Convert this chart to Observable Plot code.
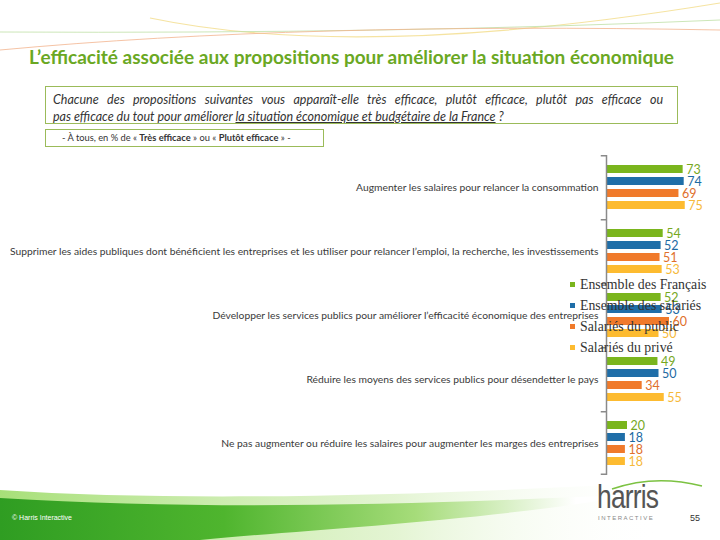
<!DOCTYPE html>
<html>
<head>
<meta charset="utf-8">
<script src="https://cdn.jsdelivr.net/npm/d3@7"></script>
<script src="https://cdn.jsdelivr.net/npm/@observablehq/plot@0.6"></script>
<style>
  html, body { margin: 0; padding: 0; background: #fff; }
  #page { position: relative; width: 720px; height: 540px; overflow: hidden; background: #fff; font-family: Lato, "Open Sans", sans-serif; }
  #decor { position: absolute; left: 0; top: 0; }
  #title { position: absolute; left: 0; width: 703px; top: 45px; text-align: center; font-weight: bold; font-size: 19px; color: #6aa823; white-space: nowrap; }
  #question { position: absolute; left: 45px; top: 86px; width: 633px; height: 38px; border: 1px solid #9bbb59; box-sizing: border-box; padding: 4px 14px 0 7px; font-style: italic; font-size: 12.5px; line-height: 17px; color: #333; }
  #question .l1 { text-align: justify; text-align-last: justify; white-space: nowrap; }
  #sub { position: absolute; left: 45px; top: 129px; width: 279px; height: 18px; border: 1px solid #9bbb59; box-sizing: border-box; font-size: 9.3px; line-height: 16px; color: #333; padding-left: 16px; white-space: nowrap; }
  #chart { position: absolute; left: 0; top: 150px; }
  #legend { position: absolute; left: 570px; top: 275px; font-family: "Liberation Serif", "DejaVu Serif", serif; font-size: 13.8px; color: #333; }
  #legend .item { height: 21px; line-height: 19px; white-space: nowrap; }
  #legend .sw { display: inline-block; width: 5px; height: 5px; margin-right: 5px; vertical-align: middle; position: relative; top: -1px; }
  #copy { position: absolute; left: 12px; top: 514px; font-size: 7px; color: #fff; font-family: "Liberation Sans", sans-serif; }
  #harris { position: absolute; left: 597px; top: 478px; font-family: "Liberation Sans", sans-serif; font-size: 33px; color: #555; letter-spacing: -1px; transform: scaleX(0.8); transform-origin: left; }
  #inter { position: absolute; left: 598px; top: 515px; font-size: 6px; letter-spacing: 1.5px; color: #888; font-family: "Liberation Sans", sans-serif; }
  #pnum { position: absolute; left: 690px; top: 513px; font-size: 9px; color: #333; font-family: "Liberation Sans", sans-serif; }
</style>
</head>
<body>
<div id="page">
  <svg id="decor" width="720" height="540">
    <defs>
      <linearGradient id="swoosh" x1="0" x2="1" y1="0" y2="0">
        <stop offset="0" stop-color="#2f9d22"/>
        <stop offset="0.35" stop-color="#4fb52e"/>
        <stop offset="0.65" stop-color="#a6dc7a"/>
        <stop offset="0.9" stop-color="#ffffff"/>
      </linearGradient>
      <linearGradient id="swoosh2" x1="0" x2="1" y1="0" y2="0">
        <stop offset="0" stop-color="#9edc6a" stop-opacity="0.9"/>
        <stop offset="0.6" stop-color="#d8f0c0" stop-opacity="0.7"/>
        <stop offset="1" stop-color="#ffffff" stop-opacity="0"/>
      </linearGradient>
    </defs>
    <path d="M150,18 Q360,62 720,3" fill="none" stroke="#f3dc8a" stroke-width="1.2" opacity="0.8"/>
    <path d="M0,32 Q400,34 720,20" fill="none" stroke="#bfe0a6" stroke-width="1" opacity="0.8"/>
    <path d="M0,50 Q300,22 720,30" fill="none" stroke="#f3b48e" stroke-width="1" opacity="0.8"/>
    <path d="M0,490 C180,502 420,496 660,482 L660,540 L0,540 Z" fill="url(#swoosh2)"/>
    <path d="M0,498 C200,510 400,506 640,494 C500,520 300,530 200,540 L0,540 Z" fill="url(#swoosh)"/>
    <path d="M612,489 Q655,474 702,486" fill="none" stroke="#7cc242" stroke-width="1.5"/>
  </svg>
  <div id="title">L’efficacité associée aux propositions pour améliorer la situation économique</div>
  <div id="question">
    <div class="l1">Chacune des propositions suivantes vous apparaît-elle très efficace, plutôt efficace, plutôt pas efficace ou</div>
    <div>pas efficace du tout pour améliorer <u>la situation économique et budgétaire de la France</u> ?</div>
  </div>
  <div id="sub">- À tous, en % de « <b>Très efficace</b> » ou « <b>Plutôt efficace</b> » -</div>
  <div id="chart"></div>
  <div id="legend"></div>
  <div id="copy">© Harris Interactive</div>
  <div id="harris">harris</div>
  <div id="inter">INTERACTIVE</div>
  <div id="pnum">55</div>
</div>
<script>
const categories = [
  "Augmenter les salaires pour relancer la consommation",
  "Supprimer les aides publiques dont bénéficient les entreprises et les utiliser pour relancer l’emploi, la recherche, les investissements",
  "Développer les services publics pour améliorer l’efficacité économique des entreprises",
  "Réduire les moyens des services publics pour désendetter le pays",
  "Ne pas augmenter ou réduire les salaires pour augmenter les marges des entreprises"
];
const series = ["Ensemble des Français", "Ensemble des salariés", "Salariés du public", "Salariés du privé"];
const francais = [73, 54, 52, 49, 20];
const salaries = [74, 52, 53, 50, 18];
const publics  = [69, 51, 60, 34, 18];
const prives   = [75, 53, 50, 55, 18];
const barColors = ["#7ab51d", "#1f6ea8", "#f07a2b", "#fdbb30"];
const labelColors = ["#76a81e", "#1d6aa3", "#e0702c", "#f6b93a"];

const valuesBySeries = [francais, salaries, publics, prives];
const data = [];
series.forEach((s, si) => categories.forEach((c, ci) => data.push({category: c, series: s, value: valuesBySeries[si][ci]})));

const facetH = 64;
const chart = Plot.plot({
  width: 720,
  height: 330,
  marginLeft: 606,
  marginRight: 9,
  marginTop: 5,
  marginBottom: 5,
  style: {fontFamily: "Lato, sans-serif", fontSize: "10.3px", color: "#3a3a3a", background: "transparent", overflow: "visible"},
  x: {domain: [0, 100], axis: null},
  y: {domain: series, axis: null, paddingInner: 0.35, paddingOuter: 0.75},
  fy: {domain: categories, padding: 0, axis: "left", label: null, tickSize: 0, tickPadding: 8},
  color: {domain: series, range: barColors},
  marks: [
    Plot.barX(data, {x: "value", y: "series", fy: "category", fill: "series"}),
    Plot.text(data, {x: "value", y: "series", fy: "category", text: d => String(d.value), dx: 3, textAnchor: "start",
      fill: d => labelColors[series.indexOf(d.series)], fontSize: 12.5, fontFamily: "Lato, sans-serif"}),
    Plot.ruleX([0], {stroke: "#8a8a8a", strokeWidth: 1.5}),
    Plot.rect([0], {x1: -5, x2: 0, insetBottom: facetH - 1.5, fill: "#8a8a8a", clip: false}),
    Plot.rect([categories[categories.length - 1]], {fy: d => d, x1: -5, x2: 0, insetTop: facetH - 1.5, fill: "#8a8a8a", clip: false})
  ]
});
document.getElementById("chart").appendChild(chart);

const legend = document.getElementById("legend");
series.forEach((s, i) => {
  const item = document.createElement("div");
  item.className = "item";
  const sw = document.createElement("span");
  sw.className = "sw";
  sw.style.background = barColors[i];
  item.appendChild(sw);
  item.appendChild(document.createTextNode(s));
  legend.appendChild(item);
});
</script>
</body>
</html>
